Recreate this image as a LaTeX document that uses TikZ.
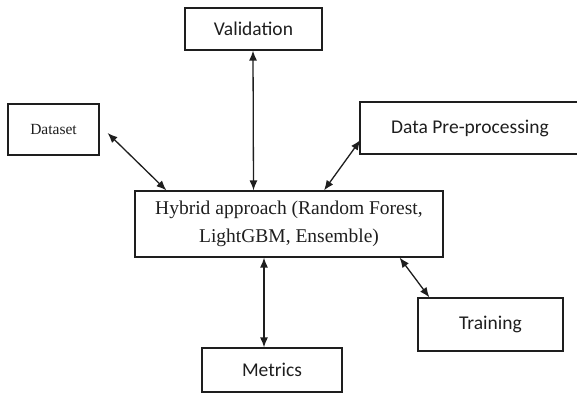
\documentclass[tikz,border=0pt]{standalone}
\usepackage{fontspec}
\setmainfont{Liberation Serif}
\newfontfamily\timesfont{Liberation Serif}
\newfontfamily\calfont{Carlito}
\usetikzlibrary{arrows.meta,calc}
\definecolor{ink}{HTML}{1E1E1E}
\tikzset{
  box/.style={draw=ink, line width=1.2pt, text=ink, inner sep=0pt, anchor=center},
  sanslabel/.style={font=\calfont\fontsize{19.5}{23}\selectfont},
  seriflabel/.style={font=\timesfont\fontsize{19.5}{28}\selectfont, align=center},
  link/.style={draw=ink, line width=1.3pt, {Latex[length=10pt,width=8pt]}-{Latex[length=10pt,width=8pt]}}
}
\begin{document}
\begin{tikzpicture}[x=1pt,y=-1pt]
  \useasboundingbox (0,0) rectangle (577,393);
  % boxes
  \node[box, sanslabel, minimum width=137pt, minimum height=42pt] (val) at (253.5,29) {Validation};
  \node[box, font=\timesfont\fontsize{15.5}{18}\selectfont, minimum width=91pt, minimum height=51pt] (ds) at (53.5,129.5) {Dataset};
  \node[box, sanslabel, minimum width=222pt, minimum height=52pt] (dp) at (471,128) {\hspace*{-2pt}Data Pre-processing};
  \node[box, seriflabel, minimum width=308pt, minimum height=66pt] (hy) at (289,224) {Hybrid approach (Random Forest,\\LightGBM, Ensemble)};
  \node[box, sanslabel, minimum width=145pt, minimum height=53pt] (tr) at (490.5,324.5) {Training};
  \node[box, sanslabel, minimum width=140pt, minimum height=44pt] (me) at (272,370) {Metrics};
  % two-way connectors
  \draw[link] ($(ds.east)+(8,3.5)$) -- ($(hy.north west)+(32,0)$);
  \draw[link] ($(val.south)+(-0.5,0)$) -- ($(hy.north)+(-35.5,0)$);
  \draw[link] ($(dp.west)+(1,12)$) -- ($(hy.north)+(35,0)$);
  \draw[link] ($(hy.south)+(-25,0)$) -- ($(me.north)+(-8,0)$);
  \draw[link] ($(hy.south east)+(-44,0)$) -- ($(tr.north west)+(12,0)$);
\end{tikzpicture}
\end{document}
